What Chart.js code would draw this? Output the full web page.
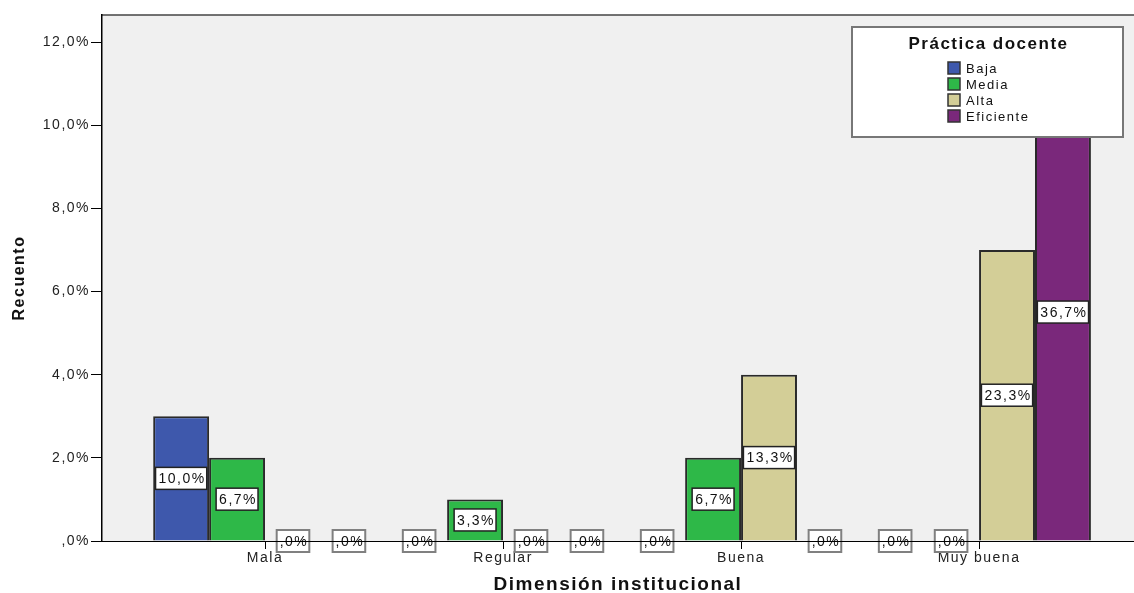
<!DOCTYPE html>
<html>
<head>
<meta charset="utf-8">
<script src="https://cdn.jsdelivr.net/npm/chart.js@4.4.0/dist/chart.umd.min.js"></script>
<style>
  html, body { margin: 0; padding: 0; background: #fff; }
  #contenedor { width: 1134px; height: 593px; }
</style>
</head>
<body>
<div id="contenedor"><canvas id="grafico" width="1134" height="593"></canvas></div>
<script>
// categorias del eje X y series (Práctica docente)
const categorias = ['Mala', 'Regular', 'Buena', 'Muy buena'];
const series = ['Baja', 'Media', 'Alta', 'Eficiente'];

// recuentos por serie
const baja = [3, 0, 0, 0];
const media = [2, 1, 2, 0];
const alta = [0, 0, 4, 7];
const eficiente = [0, 0, 0, 11];

// porcentajes mostrados en las etiquetas
const pctBaja = [10.0, 0, 0, 0];
const pctMedia = [6.7, 3.3, 6.7, 0];
const pctAlta = [0, 0, 13.3, 23.3];
const pctEficiente = [0, 0, 0, 36.7];

const ticksY = [0, 2, 4, 6, 8, 10, 12];

const colores = ['#3e58ac', '#2eb848', '#d3ce97', '#7a287b'];
const fuente = '"Liberation Sans", Arial, sans-serif';

const recuentos = [baja, media, alta, eficiente];
const porcentajes = [pctBaja, pctMedia, pctAlta, pctEficiente];

function fmtPct(v) {
  if (v === 0) return ',0%';
  return v.toFixed(1).replace('.', ',') + '%';
}

const fondo = {
  id: 'fondo',
  beforeDraw(chart) {
    const { ctx, chartArea: a } = chart;
    // el texto de SPSS sale algo espaciado
    ctx.letterSpacing = '1.5px';
    ctx.save();
    ctx.fillStyle = '#fff';
    ctx.fillRect(0, 0, chart.width, chart.height);
    ctx.fillStyle = '#f0f0f0';
    ctx.fillRect(a.left, a.top, a.right - a.left, a.bottom - a.top);
    ctx.strokeStyle = '#444';
    ctx.lineWidth = 1.5;
    ctx.beginPath();
    ctx.moveTo(a.left, a.top);
    ctx.lineTo(a.right, a.top);
    ctx.stroke();
    ctx.restore();
  }
};

const etiquetas = {
  id: 'etiquetas',
  afterDatasetsDraw(chart) {
    const ctx = chart.ctx;
    ctx.save();
    ctx.font = '14px ' + fuente;
    ctx.textAlign = 'center';
    ctx.textBaseline = 'middle';
    chart.data.datasets.forEach((ds, i) => {
      const meta = chart.getDatasetMeta(i);
      meta.data.forEach((bar, j) => {
        const p = porcentajes[i][j];
        const txt = fmtPct(p);
        const w = ctx.measureText(txt).width + 4;
        const h = 22;
        const cx = bar.x;
        const cy = p > 0 ? (bar.y + bar.base) / 2 : bar.base;
        ctx.fillStyle = '#fff';
        ctx.fillRect(cx - w / 2, cy - h / 2, w, h);
        ctx.lineWidth = p > 0 ? 1.5 : 2;
        ctx.strokeStyle = p > 0 ? '#222' : '#808080';
        ctx.strokeRect(cx - w / 2, cy - h / 2, w, h);
        ctx.fillStyle = '#111';
        ctx.fillText(txt, cx + 1, cy + 1);
      });
    });
    ctx.restore();
  },
  afterDraw(chart) {
    const { ctx, chartArea: a } = chart;
    ctx.save();
    // linea del eje sobre las etiquetas de ,0%
    ctx.strokeStyle = '#000';
    ctx.lineWidth = 1;
    ctx.beginPath();
    ctx.moveTo(a.left, a.bottom + 0.5);
    ctx.lineTo(a.right, a.bottom + 0.5);
    ctx.stroke();

    // leyenda
    const lx = a.right - 282, ly = a.top + 12, lw = 271, lh = 110;
    ctx.fillStyle = '#fff';
    ctx.fillRect(lx, ly, lw, lh);
    ctx.strokeStyle = '#777';
    ctx.lineWidth = 2;
    ctx.strokeRect(lx, ly, lw, lh);
    ctx.fillStyle = '#111';
    ctx.font = 'bold 17px ' + fuente;
    ctx.textAlign = 'center';
    ctx.textBaseline = 'middle';
    ctx.fillText('Práctica docente', lx + lw / 2 + 1, ly + 17);
    ctx.font = '13px ' + fuente;
    ctx.textAlign = 'left';
    series.forEach((s, i) => {
      const y = ly + 41 + i * 16;
      ctx.fillStyle = colores[i];
      ctx.fillRect(lx + 96, y - 6, 12, 12);
      ctx.strokeStyle = '#333';
      ctx.lineWidth = 1.5;
      ctx.strokeRect(lx + 96, y - 6, 12, 12);
      ctx.fillStyle = '#111';
      ctx.fillText(s, lx + 114, y + 1);
    });
    ctx.restore();
  }
};

const ctx = document.getElementById('grafico').getContext('2d');
new Chart(ctx, {
  type: 'bar',
  data: {
    datasets: series.map((s, i) => ({
      label: s,
      data: recuentos[i].map((v, j) => ({ x: j, y: v })),
      backgroundColor: colores[i],
      borderColor: '#2a2a2a',
      borderWidth: 2,
      categoryPercentage: 0.94,
      barPercentage: 1
    }))
  },
  options: {
    responsive: false,
    animation: false,
    devicePixelRatio: 1,
    layout: { padding: { top: 15, left: 0, right: 0, bottom: 0 } },
    plugins: {
      legend: { display: false },
      tooltip: { enabled: false }
    },
    scales: {
      x: {
        type: 'linear',
        offset: false,
        min: -0.685,
        max: 3.651,
        afterBuildTicks: s => { s.ticks = categorias.map((c, i) => ({ value: i })); },
        afterFit: s => { s.height = 52; },
        ticks: {
          callback: v => categorias[v],
          font: { family: fuente, size: 14 },
          color: '#222',
          padding: 1,
          maxRotation: 0,
          autoSkip: false
        },
        grid: { drawOnChartArea: false, offset: false, tickLength: 8, color: '#000' },
        border: { color: '#000', width: 1 },
        title: {
          display: true,
          text: 'Dimensión institucional',
          font: { family: fuente, size: 19, weight: 'bold', lineHeight: 1 },
          color: '#111',
          padding: { top: 0, bottom: -1 }
        }
      },
      y: {
        min: 0,
        max: 12.65,
        afterBuildTicks: s => { s.ticks = ticksY.map(v => ({ value: v })); },
        afterFit: s => { s.width = 102; },
        ticks: {
          callback: v => fmtPct(v),
          font: { family: fuente, size: 14 },
          color: '#222',
          padding: 1
        },
        grid: { drawOnChartArea: false, tickLength: 11, color: '#000' },
        border: { color: '#000', width: 1.5 },
        title: {
          display: true,
          text: 'Recuento',
          font: { family: fuente, size: 16, weight: 'bold' },
          color: '#111',
          padding: { top: 10, bottom: 0 }
        }
      }
    }
  },
  plugins: [fondo, etiquetas]
});
</script>
</body>
</html>
